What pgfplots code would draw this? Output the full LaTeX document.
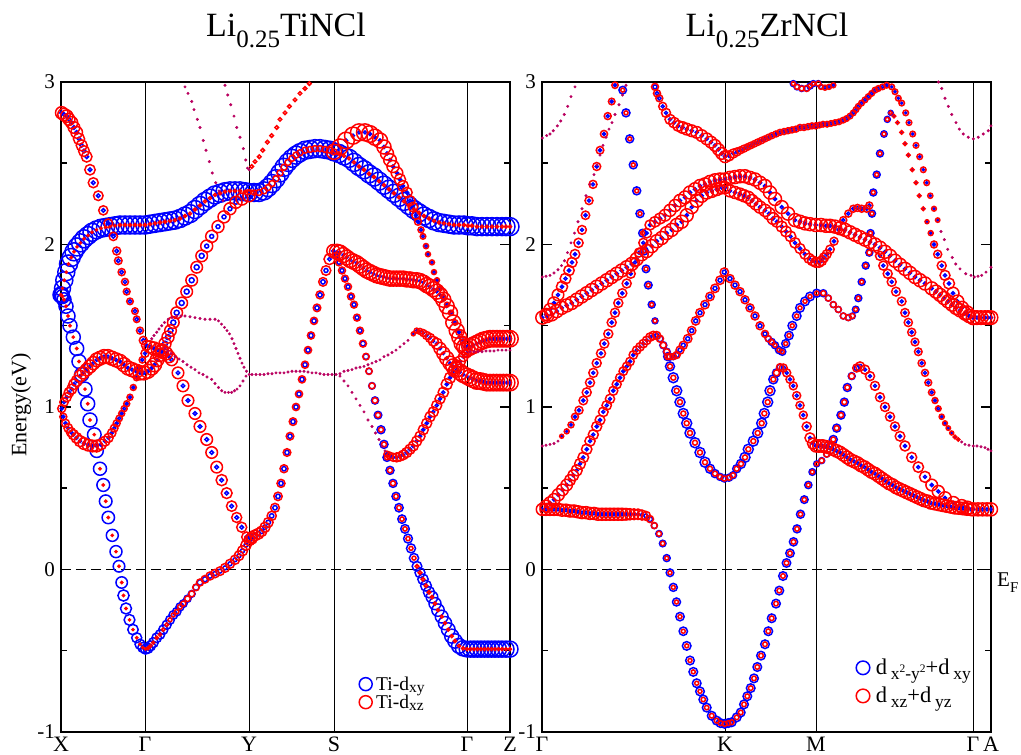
\documentclass[border=0pt]{standalone}
\usepackage{fontspec}
\setmainfont{Liberation Serif}
\usepackage{pgfplots}
\usepackage{pgfplotstable}
\pgfplotsset{compat=1.18}
\definecolor{purp}{RGB}{185,0,95}
\pgfplotsset{
 blu/.style={scatter, only marks, mark=o, line width=1.5pt, forget plot,
   scatter/use mapped color={draw=blue},
   visualization depends on={\thisrow{b} \as \msz},
   scatter/@pre marker code/.append style={/tikz/mark size=\msz pt}},
 rdd/.style={scatter, only marks, mark=o, line width=1.5pt, forget plot,
   scatter/use mapped color={draw=red},
   visualization depends on={\thisrow{r} \as \msz},
   scatter/@pre marker code/.append style={/tikz/mark size=\msz pt}},
 pur/.style={only marks, mark=*, mark size=1.3pt, draw=purp, fill=purp, forget plot},
 panel/.style={anchor=south west, scale only axis, width=449pt, height=650pt,
   ymin=-1, ymax=3, clip=false,
   axis line style={line width=1.8pt},
   xtick style={draw=none}, xmajorgrids, major grid style={black, line width=0.9pt},
   ytick={-1,0,1,2,3}, yticklabels={-1,0,1,2,3}, minor ytick={-0.5,0.5,1.5,2.5},
   tick align=inside, ytick pos=both, yticklabel pos=left,
   major tick length=10pt, minor tick length=6pt,
   ytick style={line width=1.5pt, black},
   every minor tick/.append style={line width=1.5pt, black},
   yticklabel style={font=\fontsize{21}{21}\selectfont, inner xsep=6pt},
   xticklabel style={font=\fontsize{22}{22}\selectfont, inner sep=1.5pt, yshift=-3pt}},
}
% ---------------- Left panel data (x in panel units, E in eV, b/r = marker radii)
\pgfplotstableread{
x y b r
61 1.69 7 1
62.5 1.68 7 1
64 1.66 7 1
66 1.62 7 1
68 1.56 7 1
70 1.50 7 1
73.3 1.43 7 1
76.7 1.36 7 1
79 1.28 7 1
81.7 1.20 7 1
85 1.11 7 1
87.7 1.02 7 1
90 0.92 7 1
94.3 0.83 6.8 1
96.7 0.73 6.6 1
100 0.62 6.5 1
103.3 0.52 6.4 1
105.7 0.42 6.3 1
108.3 0.32 6.2 1
112.3 0.21 6 1
116 0.11 6 1
119 0.02 5.8 1
121.7 -0.08 5.7 1
123.5 -0.16 5.6 1
126 -0.24 5.5 1
129.5 -0.31 5.4 1
133 -0.37 5.2 1
136.7 -0.42 5 1
140 -0.46 5 1
142.8 -0.48 5 1
145.5 -0.49 5 1
}\LA
\pgfplotstableread{
x y b r
61 1.69 8 1
62.5 1.73 8 1
64.3 1.78 8.5 1
66.3 1.83 8.5 1
68.5 1.88 9 1
71.2 1.92 9 1
74 1.955 9 1
77 1.985 9 1
80.5 2.01 9 1
84 2.035 9 1
88 2.055 9 1
92 2.075 9 1
96.5 2.09 9 1
101 2.10 9 1
105.5 2.105 9 1
110 2.11 9 1
115 2.115 9 1
120 2.12 9 1.5
125 2.12 9 1.5
130 2.12 9 1.5
135 2.12 9 1.5
140 2.12 9 1.5
145 2.12 9 1.5
150 2.125 9 1.5
155 2.13 9 1.5
160 2.135 9 1.5
165 2.14 9 1.5
170 2.145 9 1.5
175 2.15 9 1.5
180 2.16 9 1.5
185 2.175 9 1.5
190 2.19 9 1.5
195 2.215 9 1.5
200 2.24 9 1.5
205 2.265 9 1.5
210 2.285 9 1.5
215 2.305 9 1.5
220 2.315 9 1.5
225 2.325 9 1.5
230 2.33 9 1.5
235 2.33 9 1.5
240 2.33 9 1.5
245 2.325 9 1.5
249 2.32 9 2
254 2.32 9 2.5
259 2.32 9 3
264 2.33 9 3
268 2.35 9 3
272 2.375 9 3
276 2.405 9 3
280 2.44 9 3
284 2.475 9 3
288 2.505 9 3
292 2.53 9 3
296 2.55 9 3
300 2.565 9 3
305 2.58 9 3
310 2.585 9 3
315 2.59 9 3
320 2.59 9 3
325 2.585 9 3
330 2.58 9 3
334 2.57 9 3
339 2.56 9 1.5
344 2.545 9 1.5
349 2.53 9 1.5
354 2.505 9 1.5
359 2.48 9 1.5
364 2.46 9 1.5
369 2.435 9 1.5
374 2.415 9 1.5
379 2.39 9 1.5
384 2.365 9 1.5
389 2.34 9 1.5
394 2.315 9 1.5
399 2.29 9 1.5
404 2.265 9 1.5
409 2.24 9 1.5
414 2.215 9 1.5
419 2.195 9 1.5
424 2.175 9 1.5
429 2.16 9 1.5
434 2.145 9 1.5
439 2.135 9 1.5
444 2.13 9 1.5
449 2.125 9 1.5
454 2.12 9 1.5
459 2.12 9 1.5
464 2.12 9 1.5
468 2.115 9 1.5
472 2.115 9 1.5
477 2.11 9 1.5
482 2.11 9 1.5
487 2.11 9 1.5
492 2.11 9 1.5
497 2.11 9 1.5
502 2.11 9 1.5
506 2.11 9 1.5
510 2.11 9 1.5
}\LB
\pgfplotstableread{
x y b r
61.7 2.81 1.8 6.2
64 2.80 1.8 6.2
66.7 2.79 1.8 6.2
69 2.77 1.8 6
71.7 2.75 1.8 6
74 2.72 1.8 5.8
76.7 2.69 1.8 5.8
79 2.65 1.8 5.6
81.7 2.61 1.8 5.5
84 2.575 1.8 5.4
86.7 2.54 1.8 5.3
90 2.46 1.8 5.2
93.3 2.38 1.8 5
98.3 2.30 1.8 4.8
103.3 2.21 1.8 4.6
108.3 2.13 1.8 4.4
113.3 2.05 1.8 4.2
116.7 1.96 1.8 4
118.3 1.90 1.8 3.8
121.7 1.83 1.8 3.6
125 1.77 1.8 3.5
126.7 1.71 1.8 3.4
130 1.65 1.8 3.3
135 1.59 1.8 3.3
136.7 1.54 1.8 3.3
140 1.47 1.8 3.5
143.3 1.41 1.8 4
146.5 1.38 1.5 5
150 1.37 1.5 6
154 1.36 1.5 6.5
158 1.35 1.5 6.5
162 1.34 1.5 6.5
166 1.33 1.5 6.5
169 1.31 1.5 6
171.7 1.29 1.8 5.8
178 1.21 1.8 5.8
183 1.13 1.8 5.8
188 1.04 1.8 5.8
195 0.96 1.8 5.8
200 0.88 1.8 5.8
206.7 0.80 1.8 5.8
211.7 0.72 1.8 5.8
216.7 0.63 1.8 5.8
221.7 0.55 1.8 5.6
226.7 0.47 1.8 5.4
231.7 0.39 1.8 5.2
236.7 0.32 1.8 5
241.7 0.26 1.8 5
246.7 0.20 1.8 5
251.7 0.19 1.8 5.5
}\LC
\pgfplotstableread{
x y b r
61.7 0.99 1.5 4
64 1.03 1.5 4.2
66.7 1.06 1.5 4.5
69 1.09 1.5 4.8
71.7 1.11 1.5 5
74 1.14 1.5 5.3
76.7 1.16 1.5 5.5
80 1.19 1.5 5.8
83.3 1.21 1.5 6
86.7 1.23 1.5 6.2
90 1.25 1.5 6.5
93.3 1.27 1.5 6.5
96.7 1.29 1.5 6.8
100 1.30 1.5 6.8
104 1.31 1.5 7
108 1.31 1.5 7
112 1.30 1.5 7
116 1.29 1.5 7
120 1.28 1.5 7
124 1.26 1.5 7
128 1.24 1.5 7
132 1.23 1.5 7
136 1.22 1.5 7
140 1.21 1.5 7
144 1.21 1.5 7
148 1.22 1.5 7
151.7 1.24 1.5 7
154.5 1.26 1.5 7
157 1.29 1.5 6.8
159.5 1.32 1.5 6.5
162 1.35 1.5 6.3
165 1.39 2.5 6
168 1.43 2.5 6
170.5 1.47 2.5 5.8
173.3 1.52 2.5 5.8
176.7 1.58 2.5 5.8
181.7 1.64 2.5 5.8
186.7 1.71 2.5 5.8
191.7 1.78 2.5 5.8
196.7 1.86 2.5 5.8
201.7 1.93 2.5 5.8
206.7 1.99 2 6
211.7 2.05 2 6
218 2.11 2 6
224 2.17 2 6
230 2.22 2 6
236 2.26 2 6
242 2.28 2 6
249 2.30 2 6
}\LD
\pgfplotstableread{
x y b r
63.3 0.94 1.5 3.5
65.5 0.90 1.5 4
68.3 0.87 1.5 4.3
71 0.845 1.5 4.6
73.3 0.83 1.5 5
76.5 0.81 1.5 5.3
80 0.79 1.5 5.6
84 0.775 1.5 5.8
88.3 0.765 1.5 5.8
92.5 0.76 1.5 5.8
96.7 0.76 1.5 5.8
101 0.77 1.5 5.5
105 0.79 1.5 5
108.5 0.81 1.5 4.6
111.7 0.84 1.5 4.2
114.2 0.87 1.5 3.8
116.7 0.90 1.5 3.5
119.2 0.93 1.5 3.2
121.7 0.96 1.5 3
124.2 0.99 1.5 3
126.7 1.02 1.5 3
130 1.06 1.5 3
133.3 1.12 1.5 3
136.5 1.18 1.5 3
139 1.24 1.5 3
142.3 1.29 1.5 3.2
145 1.33 1.5 4
}\LE
\pgfplotstableread{
x y b r
148 -0.485 5 1.5
150.5 -0.47 5 1.5
153.3 -0.45 4.9 1.5
156.7 -0.42 4.8 1.5
160 -0.40 4.7 1.6
163.3 -0.37 4.6 1.7
166.7 -0.34 4.5 1.8
170 -0.31 4.4 2
173.3 -0.28 4.3 2
176.7 -0.26 4.2 2.2
180 -0.23 4 2.4
183.3 -0.21 3.8 2.6
187.5 -0.18 3.6 2.8
191.7 -0.15 3.4 3
196 -0.11 3 3.3
200 -0.08 2.8 3.5
205 -0.06 2.5 3.8
210 -0.04 2.2 4
215 -0.025 2 4.2
220 -0.01 2 4.3
225 0.01 2 4.4
230 0.035 2 4.5
235 0.06 2 4.6
239 0.085 2 4.8
242.5 0.115 2 5
246 0.15 2 5.2
249.3 0.18 2 5.5
}\LF
\pgfplotstableread{
x y b r
252 0.20 2.2 5.5
255 0.21 2.2 5.5
258.3 0.22 2.2 5.5
261.7 0.235 2.2 5.2
265 0.26 2.2 5
268.3 0.29 2.2 4.8
271.7 0.33 2.2 4.6
275 0.38 2.2 4.4
278 0.45 2.2 4.2
281 0.53 2.2 4
284 0.62 2.2 4
287 0.72 2.2 3.8
290 0.82 2.2 3.8
293 0.91 2.2 3.8
296 1.00 2.2 3.6
299 1.08 2.2 3.6
302 1.17 2.2 3.6
305 1.26 2.2 3.6
308 1.35 2.2 3.6
311 1.44 2.2 3.6
314 1.53 2.2 3.6
317 1.61 2.2 3.8
320 1.69 2.2 4
323 1.77 2.2 4.3
326 1.84 2 4.8
329.5 1.91 1.8 5.5
333.3 1.96 1.5 6.5
}\LG
\pgfplotstableread{
x y b r
337 1.955 1.2 7.5
340 1.95 1.2 7.5
343.3 1.935 1.2 7.5
346.7 1.92 1.2 7.5
350 1.905 1.2 7.5
353.3 1.895 1.2 7.5
356.7 1.885 1.2 7.5
360 1.87 1.2 7.5
363.3 1.855 1.2 7.5
366.7 1.84 1.2 7.5
370 1.83 1.2 7.5
373.3 1.82 1.2 7.5
376.7 1.81 1.2 7.5
380 1.805 1.2 7.5
383.3 1.80 1.2 7.5
386.7 1.795 1.2 7.5
390 1.79 1.2 7.5
393.3 1.79 1.2 7.5
396.7 1.79 1.2 7.5
400 1.79 1.2 7.5
403.3 1.79 1.2 7.5
406.7 1.785 1.2 7.5
410 1.785 1.2 7.5
413.3 1.78 1.2 7.5
416.7 1.78 1.2 7.5
420 1.775 1.2 7.5
423.3 1.765 1.2 7.5
426.7 1.75 1.2 7.5
430 1.74 1.2 7.5
433.3 1.725 1.2 7.5
436.7 1.71 1.2 7.5
440 1.69 1.2 7.5
443.3 1.66 1.2 7.5
446.7 1.62 1.2 7.5
450 1.58 1.2 7.5
453.3 1.52 1.2 7.5
456.7 1.47 1.2 7.5
459.3 1.43 1.2 7.5
461.7 1.39 1.2 7.5
464.5 1.37 1.2 7.8
467 1.36 1.2 8
470 1.37 1.2 8.2
473.3 1.38 1.2 8.2
476.7 1.39 1.2 8.2
480 1.40 1.2 8.2
483.3 1.41 1.2 8.2
486.7 1.415 1.2 8.2
490 1.42 1.2 8.2
493.3 1.42 1.2 8.2
496.7 1.42 1.2 8.2
500 1.42 1.2 8.2
503.3 1.42 1.2 8.2
506.7 1.42 1.2 8.2
510 1.42 1.2 8.2
}\LH
\pgfplotstableread{
x y b r
334 2.57 1.5 7.5
340 2.60 1.5 8
346 2.64 1.5 8.3
353 2.67 1.5 8.5
359 2.69 1.5 8.5
365 2.69 1.5 8.5
370 2.68 1.5 8.3
375 2.66 1.5 8
380 2.64 1.5 7.5
384 2.60 1.5 7
387 2.56 1.5 6.5
390 2.52 1.5 6.3
393 2.48 1.5 6
397 2.44 1.5 5.8
400 2.40 1.5 5.6
403 2.36 1.5 5.4
407 2.32 1.5 5.2
410 2.27 1.5 5
413 2.23 1.5 4.8
416 2.18 1.5 4.2
418 2.14 1.5 3.5
421 2.09 1.5 3
423 2.05 1.5 2.8
426 1.99 1.5 2.6
428 1.94 1.5 2.5
432 1.89 1.5 2.5
434 1.83 1.5 2.5
437 1.78 1.5 2.5
440 1.73 1.5 2.5
443 1.68 1.5 2.5
447 1.63 1.5 2.5
451 1.58 1.5 2.6
455 1.52 1.5 2.8
459 1.46 1.5 3
463 1.41 1.5 3.3
467 1.37 1.5 3.5
}\LDD
\pgfplotstableread{
x y b r
336 1.93 2 3.5
339 1.89 2 3.5
342 1.84 2 3.5
345 1.79 2 3.5
348 1.74 2 3.5
351 1.68 2 3.5
354 1.63 2 3.5
357 1.55 2 3.5
360 1.47 2 3.5
363 1.39 2.5 3.5
366 1.31 2.8 3.3
369 1.22 3 3.2
372 1.13 3.3 3
375 1.04 3.6 2.8
378 0.95 3.8 2.6
381 0.86 4 2.5
384 0.77 4 2.5
387 0.69 4 2.5
390 0.61 4 2.5
393 0.53 4 2.5
396 0.45 4 2.3
399 0.38 4.2 2.3
402 0.31 4.2 2.2
405 0.25 4.3 2.2
408 0.19 4.4 2.1
411 0.13 4.5 2
414 0.07 4.6 2
417 0.02 4.8 1.8
420 -0.02 5 1.8
423 -0.06 5.2 1.8
426 -0.10 5.4 1.7
429 -0.14 5.6 1.7
432 -0.17 5.8 1.6
435 -0.21 6 1.6
438 -0.25 6.2 1.5
441.7 -0.29 6.4 1.5
445 -0.33 6.6 1.5
448.3 -0.37 6.8 1.5
451.7 -0.41 7 1.5
455 -0.44 7.2 1.5
459 -0.47 7.4 1.5
463 -0.485 7.6 1.5
467 -0.49 7.8 1.5
470.5 -0.49 8 1.5
474 -0.49 8 1.5
477.5 -0.49 8 1.5
481 -0.49 8 1.5
484.5 -0.49 8 1.5
488 -0.49 8 1.5
491.5 -0.49 8 1.5
495 -0.49 8 1.5
498.5 -0.49 8 1.5
502 -0.49 8 1.5
506 -0.49 8 1.5
510 -0.49 8 1.5
}\LI
\pgfplotstableread{
x y b r
413.3 1.45 1 2
416.7 1.47 1 2.5
420 1.465 1 3
423.3 1.455 1.2 3.5
426.7 1.44 1.2 4
430 1.425 1.2 4.5
433.3 1.405 1.2 5
436.7 1.39 1.2 5.5
440 1.36 1.2 6
443.3 1.33 1.2 6.5
446.7 1.30 1.2 7
450 1.27 1.2 7
453.3 1.25 1.2 7.5
456.7 1.23 1.2 7.5
460 1.215 1.2 8
463.3 1.20 1.2 8
466.7 1.19 1.2 8
470 1.18 1.2 8.2
473.3 1.17 1.2 8.2
476.7 1.16 1.2 8.2
480 1.16 1.2 8.2
483.3 1.155 1.2 8.2
486.7 1.15 1.2 8.2
490 1.15 1.2 8.2
493.3 1.15 1.2 8.2
496.7 1.15 1.2 8.2
500 1.15 1.2 8.2
503.3 1.15 1.2 8.2
506.7 1.15 1.2 8.2
510 1.15 1.2 8.2
}\LHH
\pgfplotstableread{
x y b r
387 0.71 1.5 3
390 0.70 1.5 3.5
393.3 0.69 1.5 4
396.7 0.69 1.5 4.5
400 0.695 1.5 4.5
403.3 0.705 1.5 4.8
406.7 0.72 1.5 5
410 0.74 1.5 5
413.3 0.76 1.5 5
416.7 0.79 1.5 5
420 0.82 1.5 5
423.3 0.86 1.5 5
426.7 0.90 1.5 5
430 0.94 1.5 5
433.3 0.97 1.5 5
436.7 1.01 1.5 5
440 1.05 1.5 5
443.3 1.09 1.5 5.2
446.7 1.14 1.5 5.5
450 1.18 1.5 5.5
453.3 1.22 1.5 5.5
456.7 1.25 1.5 5.5
460 1.28 1.5 5.5
463.3 1.31 1.5 5
466.7 1.33 1.5 4.5
}\LV
\pgfplotstableread{
x y b r
251.7 2.48 0.8 1.8
255 2.51 0.8 1.8
259.3 2.54 0.8 1.8
262.7 2.58 0.8 1.8
267.3 2.63 0.8 1.8
271.7 2.67 0.8 1.8
276.7 2.72 0.8 1.8
280 2.77 0.8 1.8
285 2.81 0.8 1.8
289.3 2.85 0.8 1.8
295 2.89 0.8 1.8
300 2.93 0.8 1.8
305 2.96 0.8 1.8
309.3 2.99 0.8 1.8
}\LRR
\pgfplotstableread{
x y
185 2.97
188 2.93
191.7 2.88
194 2.83
197.3 2.77
200 2.72
203.3 2.64
206 2.58
209.3 2.51
212.3 2.44
215.7 2.38
219 2.33
223 2.27
225 2.98
227.7 2.92
230.7 2.86
234 2.79
236.7 2.72
240 2.66
243.3 2.59
245.7 2.52
247.5 2.47
249.3 2.46
151.7 1.42
154 1.44
156.7 1.46
159 1.48
161.7 1.50
164.5 1.52
168.3 1.54
172 1.55
176.7 1.56
181 1.56
185 1.56
190 1.555
195 1.55
200 1.545
205 1.54
210 1.54
215 1.54
218.5 1.53
221.5 1.51
224.5 1.49
227 1.47
229.5 1.45
232 1.42
234 1.39
236 1.36
238 1.33
240 1.30
242 1.27
244 1.245
246.5 1.22
249.3 1.20
165 1.36
168 1.345
171 1.33
175 1.31
179 1.295
183 1.28
187 1.26
191 1.245
195 1.23
199 1.21
203 1.20
207 1.185
211.7 1.17
215 1.145
218.5 1.12
221.7 1.10
225 1.09
228.5 1.09
231.7 1.09
234.5 1.10
237 1.11
240 1.13
243 1.16
246 1.19
252 1.20
256 1.20
260 1.20
264 1.20
268 1.205
272 1.205
276 1.21
280 1.21
284 1.21
288 1.215
292 1.22
296 1.22
300 1.22
304 1.22
308 1.215
312 1.21
316 1.21
320 1.205
324 1.20
328 1.20
332 1.20
336 1.20
340 1.205
344 1.22
348 1.225
352 1.23
356 1.24
360 1.245
364 1.25
368 1.26
372 1.27
376 1.28
380 1.29
384 1.31
388 1.32
392 1.335
396 1.35
400 1.37
404 1.39
408 1.41
340 1.19
344 1.16
348 1.13
352 1.09
356 1.05
360 1.01
364 0.97
368 0.92
372 0.88
375.5 0.84
379 0.80
382 0.76
385 0.73
470 1.34
474 1.34
478 1.34
482 1.34
486 1.345
490 1.345
494 1.345
498 1.35
502 1.35
506 1.35
510 1.35
}\LP
% ---------------- Right panel data
\pgfplotstableread{
x y b r
542.3 0.37 1.5 6
546 0.37 1.5 6
550 0.37 1.5 6
554 0.37 1.5 6
558 0.37 1.5 6
562 0.365 1.5 6
566 0.365 1.5 6
570 0.36 1.5 6
574 0.36 1.5 6
578 0.355 1.5 6
582 0.35 1.5 6
586 0.35 1.5 6
590 0.345 1.5 6
594 0.345 1.5 6
598 0.34 1.5 6
602 0.34 1.5 6
606 0.34 1.5 6
610 0.34 1.5 6
614 0.34 1.5 6
618 0.34 1.5 6
622 0.34 1.5 6
626 0.34 1.5 5.8
630 0.34 1.5 5.6
634 0.34 1.5 5.4
638 0.34 1.5 5.2
642 0.335 1.8 5
646 0.33 2 4.5
650 0.31 2.5 3.5
654.3 0.27 3 3
659 0.22 3.2 2.5
662.7 0.16 3.3 2.2
666.7 0.07 3.5 2
670 -0.02 3.8 2
673.3 -0.11 4 2
676.5 -0.20 4 2
680 -0.29 4.2 2
683.3 -0.38 4.2 2
686.7 -0.47 4.3 2
690 -0.56 4.3 2
693.3 -0.63 4.3 2
696.7 -0.70 4.3 2
700 -0.75 4.3 2
703.3 -0.80 4.3 2.2
706.7 -0.85 4.3 2.2
711.7 -0.90 4.3 2.3
716.7 -0.93 4.3 2.4
720.5 -0.945 4.3 2.4
724.7 -0.95 4.3 2.5
728.3 -0.945 4.3 2.4
731.7 -0.94 4.3 2.4
736.7 -0.91 4.3 2.3
740.7 -0.88 4.3 2.3
744 -0.83 4.3 2.3
747.3 -0.78 4.3 2.3
750.7 -0.73 4.3 2.3
754 -0.67 4.3 2.3
757.3 -0.60 4.3 2.3
761 -0.53 4.3 2.3
765 -0.46 4.3 2.3
768.3 -0.38 4.3 2.3
771.7 -0.30 4.3 2.3
776 -0.21 4.3 2.3
779.3 -0.13 4.3 2.3
783 -0.04 4.3 2.3
786.5 0.04 4.2 2.3
790 0.10 4.2 2.3
793.5 0.17 4.1 2.3
797 0.25 4 2.3
800.5 0.34 4 2.2
804.3 0.43 3.8 2.2
808.3 0.52 3.6 2
812.3 0.60 3.3 2
816.7 0.65 3 2
821.7 0.67 3 2.5
826.7 0.71 3 3
830 0.76 3.5 3
833.3 0.80 4 2.5
836.7 0.87 4 2.5
841 0.95 4 2.5
844.3 1.03 4 2.5
847.3 1.12 4 2.5
851.7 1.19 3.5 3
856.7 1.24 2.5 4
860 1.25 2 4.5
865 1.23 1.5 4.5
870 1.19 1.5 4.5
875 1.13 1.5 4.5
880 1.06 1.5 4.5
885 1.00 1.5 4.5
890 0.94 1.5 4.5
895 0.88 1.5 4.5
900 0.82 1.5 4.8
905 0.76 1.5 5
911.7 0.69 1.5 5
918.3 0.63 1.5 5.2
925 0.57 1.5 5.5
931.7 0.52 1.5 5.8
938.3 0.48 1.5 6
945 0.44 1.5 6.2
953.3 0.41 1.5 6.3
961.7 0.39 1.5 6.5
967.5 0.38 1.5 6.5
973.3 0.37 1.5 6.5
978 0.37 1.5 6.5
982.5 0.37 1.5 6.5
987 0.37 1.5 6.5
991 0.37 1.5 6.5
}\RA
\pgfplotstableread{
x y b r
667.7 1.31 4 3
670 1.25 4.5 2.5
673.3 1.18 5 2.5
676.7 1.10 5 2.5
680 1.03 5 2.5
683.3 0.96 5 2.5
686.7 0.90 5 2.5
690 0.84 5 2.5
695 0.78 5 2.5
700 0.72 5 2.5
705 0.66 5 2.5
710 0.62 4.5 2.5
715 0.59 4 2.5
720 0.57 3.5 2.5
724.3 0.56 3.5 2.5
729 0.565 3.5 2.5
733 0.58 3.5 2.5
736.7 0.62 4 2.5
741 0.65 4.5 2.5
745 0.69 5 2.5
748.3 0.74 5 2.5
753.3 0.79 5 2.5
757.7 0.84 5 2.5
761.7 0.90 5 2.5
764.3 0.96 5 2.5
767.7 1.03 5 2.5
770 1.10 5 2.5
773.3 1.17 4.5 2.5
776.5 1.21 4 3
780 1.245 3 3.5
783.3 1.24 2 4
786.7 1.21 1.5 4
790 1.17 1.5 4
793.3 1.13 1.5 4
796.7 1.07 1.5 4
800 1.01 1.5 4
803.3 0.95 1.5 4
806.7 0.88 1.5 4.5
810 0.81 1.5 5
813 0.775 1.5 5.5
816 0.76 1.5 6
819 0.76 1.5 6.2
822.5 0.76 1.5 6.2
826 0.755 1.5 6.2
829.5 0.75 1.5 6.2
833 0.74 1.5 6.2
836.5 0.73 1.5 6.2
840 0.72 1.5 6.2
843.5 0.705 1.5 6.2
847 0.69 1.5 6.2
850.5 0.675 1.5 6.2
854 0.665 1.5 6.2
857.5 0.655 1.5 6.2
861 0.64 1.5 6.2
864.5 0.63 1.5 6.2
868 0.615 1.5 6.2
871.5 0.60 1.5 6.2
875 0.59 1.5 6.2
878.5 0.575 1.5 6.2
882 0.56 1.5 6.2
885.5 0.545 1.5 6.2
889 0.53 1.5 6.2
892.5 0.52 1.5 6.2
896 0.505 1.5 6.2
899.5 0.495 1.5 6.2
903 0.485 1.5 6.2
906.5 0.475 1.5 6.2
910 0.465 1.5 6.2
913.5 0.455 1.5 6.2
917 0.445 1.5 6.2
920.5 0.435 1.5 6.2
924 0.425 1.5 6.2
927.5 0.42 1.5 6.2
931 0.41 1.5 6.2
935 0.405 1.5 6.2
939 0.40 1.5 6.2
943 0.395 1.5 6.2
947 0.39 1.5 6.2
951 0.385 1.5 6.2
955 0.38 1.5 6.2
959 0.378 1.5 6.2
963 0.375 1.5 6.2
967 0.372 1.5 6.2
971 0.37 1.5 6.2
}\RB
\pgfplotstableread{
x y b r
546 0.39 1.5 6
550 0.41 1.5 6
554 0.43 1.5 6
558.3 0.46 1.5 6
562.5 0.49 1.5 5.8
566.7 0.52 1.5 5.7
570 0.55 1.5 5.5
573.3 0.58 1.5 5.5
576.7 0.61 1.5 5.5
580 0.65 1.5 5.4
583.3 0.69 1.5 5.3
586.7 0.74 1.5 5.2
590 0.79 1.5 5.1
593.3 0.83 1.5 5
596.7 0.88 1.5 5
600 0.92 1.5 4.9
603.3 0.97 1.5 4.8
606.7 1.01 1.5 4.7
610 1.05 1.5 4.6
613.3 1.10 1.5 4.5
616.7 1.14 1.5 4.5
620 1.18 1.5 4.4
623.3 1.22 1.5 4.3
626.7 1.25 1.5 4.2
630 1.28 1.5 4.2
633.3 1.32 1.5 4.2
636.7 1.35 1.5 4.2
640 1.37 1.5 4.2
643.3 1.39 1.5 4.2
646.7 1.41 1.5 4.2
650 1.43 1.5 4.2
653.3 1.44 1.5 4.2
656.7 1.44 2 4
660 1.42 3 3.5
663.3 1.38 3.5 3
666.7 1.34 3.5 3
670 1.31 3.5 3
673.3 1.31 3 3
676.7 1.32 2.5 3.5
680 1.35 2 4
683.3 1.38 2 4
687.7 1.42 2 4.2
691.7 1.47 2 4.2
695.7 1.53 2 4.2
700 1.58 2 4.2
705 1.63 2 4.2
710 1.68 2 4.2
715 1.73 2 4.2
720 1.78 2 4.2
724.3 1.83 2 4.2
730 1.79 2 4
735 1.75 2 4
740 1.71 2 4
745 1.66 2 4
750 1.61 2 4
755 1.56 2 4
760 1.50 2 4
765 1.45 2 3.5
768.3 1.42 3 3
771.7 1.40 3.5 2.5
775 1.38 3.5 2
779 1.35 3.5 2
782.3 1.34 3.5 2
785.7 1.39 4 2
789 1.44 4.2 2
792.3 1.50 4.3 2
796.7 1.56 4.3 2
800 1.61 4.3 2
805 1.65 4.3 2
810 1.68 4.3 2
816.7 1.70 4 2.2
823.3 1.70 3.5 2.5
828.3 1.67 3 3
833.3 1.63 3 3
838.3 1.60 3 3
843.3 1.56 3 3
848.3 1.55 3 3
852.3 1.56 3 2.5
855.7 1.60 3.3 2
858.3 1.67 3.5 2
861.7 1.77 3.5 2
865.7 1.87 3.5 2
869.3 1.95 3.5 2.5
870.5 2.07 3.5 2
872 2.19 3.5 2
873.3 2.32 3.5 2
876.7 2.43 3.5 2
880 2.56 3.5 2
884 2.68 3.2 2
887.3 2.77 3 2
890.7 2.81 2.5 1.8
}\RC
\pgfplotstableread{
x y b r
561.7 0.82 1 2
566.7 0.85 1 2.5
571 0.89 1.2 3
575 0.94 1.5 3.5
579 0.98 1.5 4
583.3 1.04 1.5 4.3
586.7 1.09 1.5 4.5
590 1.15 1.5 4.5
593.3 1.21 1.5 4.5
596.7 1.27 1.5 4.5
601 1.33 1.5 4.5
604.3 1.39 1.5 4.5
608.3 1.45 1.5 4.5
611.7 1.52 1.5 4.5
615 1.58 1.5 4.5
618.3 1.64 1.5 4.5
622.3 1.70 1.5 4.5
626.7 1.76 1.5 4.5
630.7 1.82 1.5 4.5
635 1.89 1.5 4.5
639 1.95 1.5 4.5
643.3 2.01 1.5 4.5
646.7 2.07 1.5 4.8
650 2.12 1.5 5
655 2.14 1.5 5.3
660 2.16 1.5 5.5
665 2.18 1.5 5.8
670 2.21 1.5 6
675 2.24 1.5 6
680 2.27 1.5 6.2
685 2.29 1.5 6.4
690 2.32 1.5 6.5
695 2.34 1.5 6.5
700 2.36 1.5 6.5
705 2.37 1.5 6.5
710 2.385 1.5 6.5
715 2.395 1.5 6.5
720 2.40 1.5 6.5
725 2.40 1.5 6.5
730 2.41 1.5 6.5
735 2.415 1.5 6.5
740 2.42 1.5 6.5
745 2.42 1.5 6.5
750 2.41 1.5 6.5
755 2.40 1.5 6.5
760 2.38 1.5 6.5
765 2.36 1.5 6.5
770 2.32 1.5 6.5
775 2.28 1.5 6.5
781.7 2.23 1.5 6.5
788 2.19 1.5 6.5
795 2.15 1.5 6.5
800 2.14 1.5 6.5
805 2.13 1.5 6.5
810 2.125 1.5 6.5
815.7 2.12 1.5 6.5
821 2.12 1.5 6.5
826 2.115 1.5 6.5
830 2.115 1.5 6.5
835 2.11 1.5 6.5
840 2.10 1.5 6.5
845 2.09 1.5 6.5
850 2.075 1.5 6.5
855 2.06 1.5 6.5
860 2.045 1.5 6.5
865 2.03 1.5 6.5
870 2.015 1.5 6.5
875 2.00 1.5 6.5
880 1.98 1.5 6.5
885 1.955 1.5 6.5
890 1.93 1.5 6.5
895 1.90 1.5 6.5
900 1.875 1.5 6.5
905 1.85 1.5 6.5
910 1.825 1.5 6.5
915 1.80 1.5 6.5
920 1.78 1.5 6.5
925 1.76 1.5 6.5
931.7 1.73 1.5 6.5
936 1.71 1.5 6.5
940 1.69 1.5 6.5
944 1.67 1.5 6.5
948 1.65 1.5 6.5
952 1.63 1.5 6.5
956 1.61 1.5 6.5
960 1.595 1.5 6.5
965 1.575 1.5 6.5
969 1.56 1.5 6.5
973.3 1.55 1.5 6.8
977 1.55 1.5 6.8
981 1.55 1.5 6.8
985 1.55 1.5 6.8
988 1.55 1.5 6.8
991 1.55 1.5 6.8
}\RD
\pgfplotstableread{
x y b r
542.3 1.55 1.5 6.5
547 1.56 1.5 6.5
551.7 1.57 1.5 6.5
556.7 1.59 1.5 6.5
561.7 1.61 1.5 6.5
566.7 1.625 1.5 6.5
571.7 1.64 1.5 6.5
576.7 1.66 1.5 6.5
581.7 1.68 1.5 6.5
586.7 1.70 1.5 6.5
591.7 1.72 1.5 6.5
596.7 1.74 1.5 6.5
601.7 1.76 1.5 6.5
606.7 1.78 1.5 6.5
611.7 1.80 1.5 6.5
616.7 1.82 1.5 6.5
621.7 1.84 1.5 6.5
626.7 1.86 1.5 6.5
631.7 1.88 1.5 6.5
636.7 1.91 1.5 6.5
641.7 1.94 1.5 6.5
646.7 1.96 1.5 6.5
651.7 1.99 1.5 6.5
656.7 2.02 1.5 6.5
661.7 2.04 1.5 6.5
666.7 2.07 1.5 6.5
671.7 2.09 1.5 6.5
676.7 2.12 1.5 6.5
681.7 2.14 1.5 6.5
686.7 2.18 1.5 6.5
691.7 2.23 1.5 6.5
696.7 2.27 1.5 6.5
701.7 2.30 1.5 6.5
706.7 2.32 1.5 6.5
711.7 2.33 1.5 6.5
716.7 2.34 1.5 6.3
721.7 2.35 1.5 6.2
725 2.35 1.5 6
730 2.33 1.5 6
735 2.32 1.5 6
740 2.31 1.5 6
744 2.30 1.5 6
748.3 2.29 1.5 6
752 2.27 1.5 6
756 2.25 1.5 6
760 2.23 1.5 6
765 2.21 1.5 6
769 2.19 1.5 6
773 2.16 1.5 5.8
777 2.14 1.5 5.6
781.7 2.11 1.5 5.5
786 2.08 1.5 5.4
790.5 2.05 1.5 5.3
795 2.01 1.5 5.2
800 1.975 1.5 5
805 1.94 1.5 5
809 1.915 1.5 5
812.5 1.90 1.5 5
815.7 1.89 1.5 5
819 1.89 1.5 5
821.7 1.90 1.5 4.8
824 1.92 1.5 4.6
826.7 1.94 1.5 4.4
830 1.97 1.5 4.2
834 2.02 1.5 4
838.5 2.09 1.5 3.8
843.3 2.15 1.5 3.5
848.3 2.19 1.5 3.5
853.3 2.22 1.5 3.5
857.5 2.225 1.5 3.5
861.7 2.22 1.5 3.5
866.7 2.22 1.5 3.5
869.3 2.24 1.5 3.5
}\RE
\pgfplotstableread{
x y b r
546 1.57 1.5 6
550 1.60 1.5 6
554 1.64 1.5 6
558 1.69 1.5 5.8
562 1.74 1.5 5.6
565.5 1.79 1.5 5.4
569 1.84 1.5 5.2
572 1.89 1.5 5
575 1.94 1.5 4.8
578.5 2.01 1.5 4.6
582 2.09 1.5 4.4
585.5 2.18 1.5 4.2
589 2.27 1.5 4
593 2.37 1.5 4
596.7 2.48 1.5 4
600 2.58 1.5 3.8
604 2.68 1.5 3.6
607.7 2.79 1.5 3.5
611.7 2.88 1.5 3.3
615 2.98 1.5 3.2
622.7 2.95 3.8 2
626 2.81 4 2
629.7 2.65 4 2
633.3 2.49 4 2
636.7 2.33 4 2
640 2.19 4 2
642.5 2.07 3.8 2
644.5 1.96 3.8 2
646 1.85 3.8 2
648.3 1.75 3.8 2
651.7 1.63 3.5 2
655 1.53 3 2
}\RF
\pgfplotstableread{
x y b r
655 2.97 2 3.5
657 2.93 1.8 3.5
659.3 2.90 1.8 3.5
662.7 2.85 1.5 4
666 2.81 1.5 4.5
670 2.77 1.5 5
674 2.75 1.5 5.3
678.3 2.73 1.5 5.5
682.5 2.72 1.5 5.7
686.7 2.71 1.5 5.8
691.7 2.70 1.5 5.8
696.7 2.69 1.5 5.8
701.7 2.67 1.5 5.8
706.7 2.65 1.5 5.8
711 2.63 1.5 5.8
715 2.61 1.5 5.8
718.5 2.585 1.5 5.8
721.7 2.56 1.5 5.8
725 2.54 1.5 5.8
729 2.545 1.5 5
733.3 2.56 1.5 4.5
737 2.57 1.5 4
740.5 2.58 1.5 3.5
744 2.59 1.5 3.5
747.5 2.60 1.5 3.3
751 2.61 1.5 3.2
754.5 2.62 1.5 3.2
758 2.63 1.5 3.2
761.5 2.64 1.5 3.2
765 2.65 1.5 3
768.5 2.66 1.5 3
772 2.67 1.5 3
776 2.68 1.5 3
780 2.69 1.5 3
784 2.695 1.5 3
788 2.70 1.5 3
792 2.705 1.5 3
796 2.71 1.5 3
800 2.72 1.5 3
804 2.72 1.5 3
808 2.725 1.5 3
812 2.73 1.5 3
815.7 2.73 1.5 3
819.5 2.735 1.5 2.8
823 2.74 1.5 2.8
827 2.74 1.5 2.8
831 2.745 1.5 2.8
835 2.75 1.5 2.8
839 2.755 1.5 2.8
843 2.765 1.5 2.8
846.5 2.775 1.5 2.8
850 2.79 1.5 2.8
853.3 2.81 1.5 2.8
856 2.83 1.5 2.8
858.3 2.85 1.5 2.8
861.5 2.87 1.5 2.8
865 2.89 1.5 2.8
868.3 2.91 1.5 2.8
871.7 2.93 1.5 2.8
875 2.95 1.5 2.8
878.3 2.96 1.5 2.8
882.5 2.97 1.5 2.8
886.7 2.98 1.5 2.8
891.7 2.97 1 2.8
895 2.94 1 2.8
898.3 2.90 1 2.8
901.7 2.87 1 2.8
905.7 2.81 1 2.8
909 2.75 1 2.8
912.7 2.68 1 2.8
916 2.61 1 2.8
919.7 2.54 1 2.8
923.3 2.46 1 2.8
926.7 2.38 1 2.8
930.3 2.30 1 2.6
934 2.22 1 2.4
937.7 2.15 1 2.2
894 2.79 1 1.8
897.5 2.75 1 1.8
901.7 2.69 1 1.8
905 2.62 1 1.8
908.3 2.55 1 1.8
912.3 2.46 1 1.8
916 2.38 1 1.8
919.3 2.30 1 1.8
923.3 2.22 1 1.8
927 2.14 1 2
930.7 2.07 1.2 2.5
934 2.00 1.5 3.5
937.7 1.94 1.5 4
941.7 1.87 1.5 4.5
945 1.81 1.5 5
949 1.76 1.5 5.5
953 1.70 1.5 6
957.5 1.65 1.5 6.3
962 1.61 1.5 6.5
967 1.58 1.5 6.8
973.3 1.55 1.5 7
}\RG
\pgfplotstableread{
x y b r
880 1.93 1.5 4.5
883.3 1.87 1.5 4.5
887.7 1.82 1.5 4.5
891.7 1.77 1.5 4.5
896 1.71 1.5 4.4
901.7 1.65 1.5 4.3
905 1.58 1.5 4.2
908.3 1.52 1.5 4.1
911.7 1.46 1.5 4
915 1.40 1.5 3.9
918.3 1.34 1.5 3.8
921.7 1.27 1.5 3.6
925 1.21 1.5 3.5
928.3 1.15 1.5 3.4
931.7 1.09 1.5 3.2
935 1.04 1.5 3
938.3 0.99 1.5 2.8
941.7 0.94 1.3 2.6
945 0.90 1.2 2.4
948.3 0.87 1.2 2.2
951.7 0.84 1.2 2
955 0.815 1 1.8
958.3 0.80 1 1.6
793.3 2.99 3 2
797 2.97 3 2.5
801.7 2.96 3 2.5
806.7 2.96 2.5 3
810 2.975 3 2
813.3 2.99 3 2
818.3 2.99 3 2.5
821 2.97 2 2.5
825 2.965 1.5 2.5
829 2.97 1.5 2.5
833.3 2.98 1.5 2.5
}\RH
\pgfplotstableread{
x y
542.3 0.76
546 0.765
550 0.77
554 0.775
558 0.79
961.7 0.785
965 0.77
969 0.765
973.3 0.76
977 0.76
981 0.755
985 0.75
988 0.74
991 0.73
542.3 2.655
546.7 2.67
550 2.68
553.3 2.70
557.3 2.73
560.7 2.76
564.3 2.80
567.7 2.85
571 2.91
575 2.97
542.3 1.80
546 1.805
550 1.81
554 1.825
558 1.845
561.5 1.87
564.5 1.90
567.5 1.95
571 2.01
574.5 2.07
578 2.14
582 2.22
586 2.30
590 2.37
594 2.43
597 2.49
600 2.55
603 2.61
606 2.66
609 2.71
612 2.75
615 2.80
619 2.86
622.5 2.92
626 2.98
938.5 3.0
941.7 2.96
945 2.90
948.3 2.85
951.7 2.80
956 2.75
959.3 2.71
963.3 2.68
968.3 2.66
973.3 2.65
978.3 2.66
983.3 2.68
988.3 2.70
991 2.73
941 2.08
944.3 2.03
947.7 1.97
952.3 1.92
955.7 1.88
960 1.85
965.7 1.82
971 1.81
974.3 1.80
978 1.805
981.7 1.81
986 1.83
991 1.86
}\RP
\newcommand{\sbs}[1]{\raisebox{-2.5pt}{\fontsize{15.5}{15.5}\selectfont #1}}
\newcommand{\sbr}[1]{\raisebox{-5pt}{\fontsize{17.5}{17.5}\selectfont #1}}
\newcommand{\spr}{\raisebox{7pt}{\fontsize{11.5}{11.5}\selectfont 2}}
\begin{document}
\begin{tikzpicture}
\useasboundingbox (0,0) rectangle (1021pt,755pt);
% ===== Left panel =====
\begin{axis}[panel, at={(61pt,23pt)}, xmin=61, xmax=510,
  xtick={61,145,249,334,467,510}, xticklabels={X,Γ,Y,S,Γ,Z},
  legend style={at={(axis cs:359,-0.655)}, anchor=north west, draw=none, fill=none,
    font=\fontsize{19.5}{19.5}\selectfont, inner sep=0pt, row sep=2pt,
    nodes={inner xsep=4pt, inner ysep=0.5pt}},
  legend cell align=left]
\addplot[black, line width=1.7pt, dash pattern=on 10pt off 5pt, forget plot] coordinates {(61,0) (510,0)};
\addplot[blu] table[x=x,y=y] \LA;
\addplot[blu] table[x=x,y=y] \LB;
\addplot[blu] table[x=x,y=y] \LC;
\addplot[blu] table[x=x,y=y] \LD;
\addplot[blu] table[x=x,y=y] \LE;
\addplot[blu] table[x=x,y=y] \LF;
\addplot[blu] table[x=x,y=y] \LG;
\addplot[blu] table[x=x,y=y] \LH;
\addplot[blu] table[x=x,y=y] \LDD;
\addplot[blu] table[x=x,y=y] \LI;
\addplot[blu] table[x=x,y=y] \LHH;
\addplot[blu] table[x=x,y=y] \LV;
\addplot[rdd] table[x=x,y=y] \LA;
\addplot[rdd] table[x=x,y=y] \LB;
\addplot[rdd] table[x=x,y=y] \LC;
\addplot[rdd] table[x=x,y=y] \LD;
\addplot[rdd] table[x=x,y=y] \LE;
\addplot[rdd] table[x=x,y=y] \LF;
\addplot[rdd] table[x=x,y=y] \LG;
\addplot[rdd] table[x=x,y=y] \LH;
\addplot[rdd] table[x=x,y=y] \LDD;
\addplot[rdd] table[x=x,y=y] \LI;
\addplot[rdd] table[x=x,y=y] \LHH;
\addplot[rdd] table[x=x,y=y] \LV;
\addplot[rdd] table[x=x,y=y] \LRR;
\addplot[pur] table[x=x,y=y] \LP;
\addlegendimage{only marks, mark=o, mark size=6.5pt, draw=blue, line width=1.5pt}
\addlegendentry{Ti-d\sbs{xy}}
\addlegendimage{only marks, mark=o, mark size=6.5pt, draw=red, line width=1.5pt}
\addlegendentry{Ti-d\sbs{xz}}
\end{axis}
% ===== Right panel =====
\begin{axis}[panel, at={(542pt,23pt)}, xmin=542, xmax=991,
  xtick={542,725,816,973,991}, xticklabels={Γ,K,M,Γ,A},
  legend style={at={(axis cs:856,-0.545)}, anchor=north west, draw=none, fill=none,
    font=\fontsize{22.5}{22.5}\selectfont, inner sep=0pt, row sep=9pt,
    nodes={inner xsep=6pt, inner ysep=1pt}},
  legend cell align=left]
\addplot[black, line width=1.7pt, dash pattern=on 10pt off 5pt, forget plot] coordinates {(542,0) (991,0)};
\addplot[blu] table[x=x,y=y] \RA;
\addplot[blu] table[x=x,y=y] \RB;
\addplot[blu] table[x=x,y=y] \RC;
\addplot[blu] table[x=x,y=y] \RD;
\addplot[blu] table[x=x,y=y] \RE;
\addplot[blu] table[x=x,y=y] \RF;
\addplot[blu] table[x=x,y=y] \RG;
\addplot[blu] table[x=x,y=y] \RH;
\addplot[rdd] table[x=x,y=y] \RA;
\addplot[rdd] table[x=x,y=y] \RB;
\addplot[rdd] table[x=x,y=y] \RC;
\addplot[rdd] table[x=x,y=y] \RD;
\addplot[rdd] table[x=x,y=y] \RE;
\addplot[rdd] table[x=x,y=y] \RF;
\addplot[rdd] table[x=x,y=y] \RG;
\addplot[rdd] table[x=x,y=y] \RH;
\addplot[pur] table[x=x,y=y] \RP;
\addlegendimage{only marks, mark=o, mark size=6.8pt, draw=blue, line width=1.5pt}
\addlegendentry{d\,\sbr{x\spr-y\spr}+d\,\sbr{xy}}
\addlegendimage{only marks, mark=o, mark size=6.8pt, draw=red, line width=1.5pt}
\addlegendentry{d\,\sbr{xz}+d\,\sbr{yz}}
\end{axis}
% ===== Text =====
\node[anchor=base, font=\fontsize{34}{34}\selectfont] at (286pt,718pt)
  {Li\raisebox{-11pt}{\fontsize{25}{25}\selectfont 0.25}TiNCl};
\node[anchor=base, font=\fontsize{34}{34}\selectfont] at (767pt,718pt)
  {Li\raisebox{-11pt}{\fontsize{25}{25}\selectfont 0.25}ZrNCl};
\node[rotate=90, font=\fontsize{22}{22}\selectfont] at (21pt,350pt) {Energy(eV)};
\node[anchor=base west, font=\fontsize{21}{21}\selectfont, inner sep=0pt] at (997pt,168pt)
  {E\raisebox{-6pt}{\fontsize{15}{15}\selectfont F}};
\end{tikzpicture}
\end{document}
